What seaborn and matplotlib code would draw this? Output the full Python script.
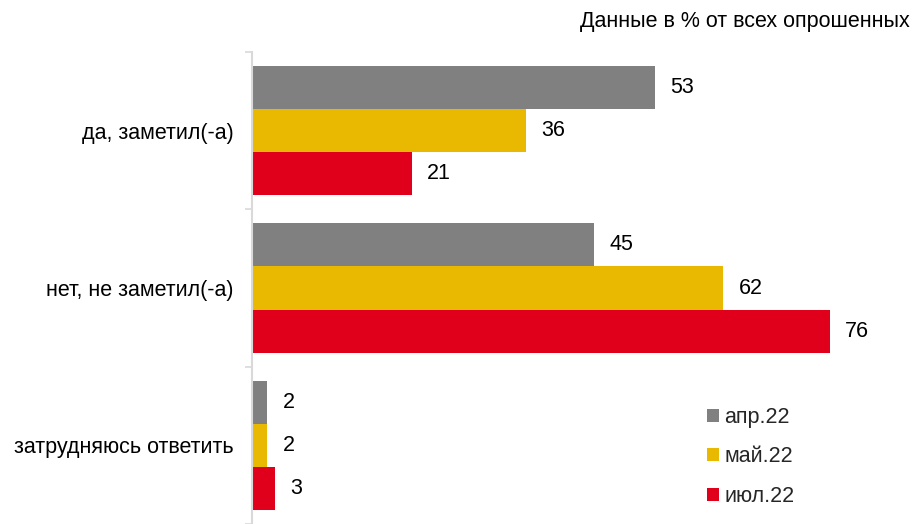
import matplotlib
matplotlib.use("Agg")
import matplotlib.pyplot as plt
from matplotlib.patches import Patch
import seaborn as sns
import pandas as pd

categories = ["да, заметил(-а)", "нет, не заметил(-а)", "затрудняюсь ответить"]
series = ["апр.22", "май.22", "июл.22"]
apr22 = [53, 45, 2]
may22 = [36, 62, 2]
jul22 = [21, 76, 3]
colors = ["#808080", "#E9B800", "#E0001B"]

rows = []
for s, vals in zip(series, [apr22, may22, jul22]):
    for c, v in zip(categories, vals):
        rows.append({"category": c, "period": s, "value": v})
df = pd.DataFrame(rows)

sns.set_theme(style="white")
plt.rcParams["font.family"] = ["Liberation Sans", "DejaVu Sans"]

FS = 15.5

fig = plt.figure(figsize=(9.16, 5.24), dpi=100)
ax = fig.add_axes([252 / 916, 0.0, (860 - 252) / 916, 1 - 52 / 524])

sns.barplot(data=df, y="category", x="value", hue="period", order=categories,
            hue_order=series, palette=colors, orient="h", width=0.82,
            saturation=1, legend=False, linewidth=0, ax=ax)

for cont in ax.containers:
    ax.bar_label(cont, fmt="%g", padding=11, fontsize=FS, color="#000000")

ax.set_xlim(0, 80)
ax.set_ylim(2.5, -0.5)
ax.set_xlabel("")
ax.set_ylabel("")
ax.set_xticks([])

for side in ["top", "right", "bottom"]:
    ax.spines[side].set_visible(False)
ax.spines["left"].set_color("#D9D9D9")
ax.spines["left"].set_linewidth(1.5)

ax.set_yticks(range(len(categories)))
ax.set_yticklabels(categories, fontsize=FS, color="#000000")
ax.tick_params(axis="y", which="major", length=0, pad=13)
ax.set_yticks([-0.5, 0.5, 1.5, 2.5], minor=True)
ax.tick_params(axis="y", which="minor", length=5, width=1.2, color="#D9D9D9", left=True)

handles = [Patch(facecolor=c, edgecolor="none", label=s) for c, s in zip(colors, series)]
fig.legend(handles=handles, loc="center left", bbox_to_anchor=(688 / 916, 1 - 457 / 524),
           frameon=False, fontsize=FS, handlelength=0.55, handleheight=0.55,
           handletextpad=0.25, labelspacing=0.85)

fig.text(0.993, 1 - 22 / 524, "Данные в % от всех опрошенных", ha="right", va="center",
         fontsize=FS, color="#000000")

fig.savefig("out.png", dpi=100)
